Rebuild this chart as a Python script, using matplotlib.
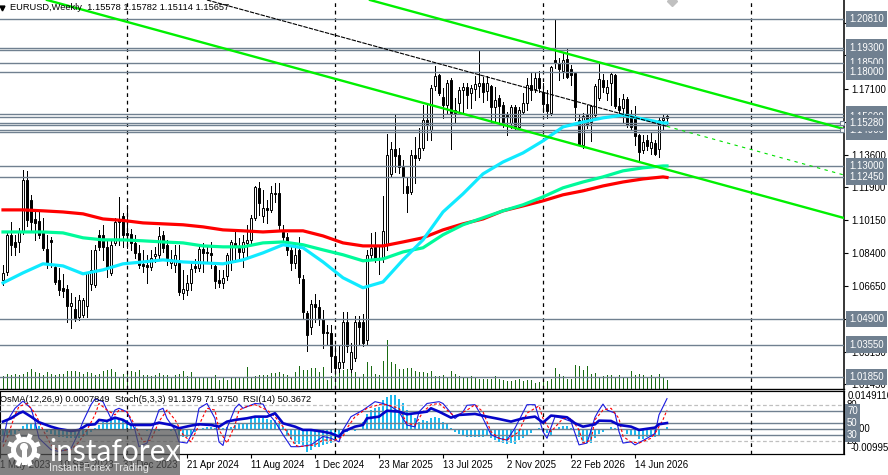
import numpy as np
import matplotlib
matplotlib.use('Agg')
import matplotlib.pyplot as plt
from matplotlib.patches import Circle, Rectangle

plt.rcParams['font.family'] = ['Liberation Sans', 'DejaVu Sans']

### WEEKLY CANDLES ###
opens = [
1.0698,1.0740,1.0937,1.0899,1.0899,1.0952,1.1228,1.1122,1.1021,1.1011,
1.0947,1.0862,1.0910,1.0767,1.0698,1.0656,1.0650,1.0560,1.0544,1.0502,
1.0513,1.0560,1.0677,1.0672,1.0937,1.0937,1.0873,1.0735,1.0894,1.1016,
1.1037,1.0947,1.0942,1.0894,1.0841,1.0783,1.0777,1.0767,1.0825,1.0831,
1.0937,1.0884,1.0788,1.0777,1.0788,1.0629,1.0645,1.0682,1.0772,1.0762,
1.0862,1.0846,1.0841,1.0772,1.0698,1.0682,1.0719,1.0793,1.0894,1.0868,
1.0846,1.0894,1.0910,1.1027,1.1186,1.1037,1.1080,1.1069,1.1159,1.1159,
1.0952,1.0926,1.0857,1.0788,1.0857,1.0703,1.0523,1.0449,1.0571,1.0555,
1.0491,1.0422,1.0417,1.0295,1.0232,1.0263,1.0475,1.0226,1.0285,1.0475,
1.0475,1.0380,1.0831,1.0873,1.0815,1.0815,1.0884,1.1260,1.1392,1.1360,
1.1297,1.1196,1.1164,1.1360,1.1345,1.1398,1.1546,1.1493,1.1726,1.1785,
1.1668,1.1626,1.1758,1.1599,1.1636,1.1705,1.1721,1.1689,1.1710,1.1726,
1.1742,1.1700,1.1726,1.1615,1.1663,1.1626,1.1572,1.1530,1.1615,1.1509,
1.1588,1.1636,1.1732,1.1710,1.1769,1.1694,1.1631,1.1583,1.1864,1.1848,
1.1806,1.1869,1.1816,1.1795,1.1546,1.1414,1.1572,1.1535,1.1572,1.1663,
1.1758,1.1689,1.1742,1.1785,1.1620,1.1610,1.1657,1.1562,1.1557,1.1467,
1.1387,1.1440,1.1398,1.1424,1.1392,1.1546,1.15578]
closes = [
1.0735,1.0937,1.0884,1.0873,1.0952,1.1228,1.1016,1.1005,1.1000,1.0937,
1.0868,1.0788,1.0899,1.0687,1.0645,1.0640,1.0560,1.0576,1.0497,1.0592,
1.0592,1.0735,1.0751,1.0857,1.0873,1.0873,1.0762,1.0884,1.1005,1.1005,
1.0937,1.0937,1.0894,1.0841,1.0777,1.0772,1.0767,1.0815,1.0836,1.0931,
1.0868,1.0815,1.0809,1.0831,1.0634,1.0650,1.0682,1.0756,1.0762,1.0862,
1.0841,1.0841,1.0831,1.0693,1.0682,1.0709,1.0831,1.0899,1.0878,1.0846,
1.0899,1.0910,1.1027,1.1191,1.1106,1.1080,1.1069,1.1159,1.1154,1.0990,
1.0926,1.0857,1.0788,1.0831,1.0714,1.0528,1.0407,1.0571,1.0555,1.0497,
1.0417,1.0417,1.0295,1.0232,1.0263,1.0475,1.0348,1.0317,1.0475,1.0449,
1.0364,1.0831,1.0868,1.0809,1.0809,1.0958,1.1360,1.1392,1.1355,1.1297,
1.1244,1.1159,1.1360,1.1345,1.1398,1.1546,1.1525,1.1716,1.1779,1.1689,
1.1626,1.1742,1.1583,1.1583,1.1705,1.1721,1.1678,1.1716,1.1737,1.1742,
1.1694,1.1742,1.1615,1.1652,1.1620,1.1530,1.1562,1.1615,1.1509,1.1599,
1.1636,1.1732,1.1705,1.1769,1.1716,1.1631,1.1594,1.1827,1.1848,1.1816,
1.1864,1.1774,1.1785,1.1615,1.1414,1.1567,1.1520,1.1620,1.1726,1.1763,
1.1721,1.1721,1.1790,1.1620,1.1599,1.1657,1.1520,1.1509,1.1461,1.1376,
1.1429,1.1408,1.1429,1.1366,1.1546,1.1557,1.15657]
highs = [
1.0777,1.0952,1.1005,1.0937,1.0974,1.1281,1.1276,1.1149,1.1069,1.1069,
1.1027,1.0937,1.0926,1.0777,1.0762,1.0730,1.0672,1.0629,1.0608,1.0619,
1.0603,1.0740,1.0857,1.0884,1.0963,1.0990,1.0910,1.0910,1.1027,1.1138,
1.1053,1.1096,1.0968,1.0937,1.0884,1.0857,1.0831,1.0857,1.0873,1.0979,
1.0958,1.0910,1.0857,1.0884,1.0884,1.0751,1.0725,1.0788,1.0809,1.0884,
1.0894,1.0884,1.0899,1.0793,1.0751,1.0751,1.0841,1.0910,1.0952,1.0921,
1.0937,1.0990,1.1043,1.1196,1.1217,1.1175,1.1122,1.1196,1.1212,1.1212,
1.0990,1.0947,1.0884,1.0889,1.0926,1.0725,1.0534,1.0592,1.0624,1.0592,
1.0539,1.0460,1.0460,1.0354,1.0354,1.0528,1.0528,1.0364,1.0507,1.0507,
1.0518,1.0857,1.0947,1.0952,1.0884,1.1143,1.1472,1.1429,1.1572,1.1398,
1.1334,1.1239,1.1387,1.1456,1.1504,1.1626,1.1626,1.1732,1.1832,1.1790,
1.1716,1.1758,1.1769,1.1663,1.1721,1.1742,1.1742,1.1732,1.1779,1.1912,
1.1774,1.1779,1.1732,1.1721,1.1678,1.1641,1.1588,1.1626,1.1626,1.1615,
1.1689,1.1769,1.1800,1.1800,1.1806,1.1742,1.1705,1.1832,1.2076,1.1875,
1.1906,1.1928,1.1838,1.1800,1.1572,1.1583,1.1626,1.1626,1.1737,1.1848,
1.1790,1.1758,1.1795,1.1790,1.1663,1.1684,1.1668,1.1599,1.1620,1.1472,
1.1467,1.1467,1.1482,1.1440,1.1557,1.1572,1.15782]
lows = [
1.0672,1.0725,1.0831,1.0831,1.0846,1.0942,1.0984,1.0952,1.0910,1.0921,
1.0857,1.0762,1.0767,1.0677,1.0619,1.0608,1.0475,1.0444,1.0481,1.0486,
1.0502,1.0502,1.0645,1.0661,1.0857,1.0804,1.0714,1.0725,1.0884,1.0884,
1.0873,1.0868,1.0857,1.0815,1.0762,1.0740,1.0682,1.0751,1.0793,1.0815,
1.0846,1.0777,1.0762,1.0740,1.0619,1.0597,1.0619,1.0645,1.0740,1.0746,
1.0740,1.0793,1.0762,1.0656,1.0661,1.0656,1.0698,1.0751,1.0793,1.0804,
1.0767,1.0815,1.0884,1.1016,1.1043,1.1005,1.1000,1.1058,1.1111,1.0958,
1.0899,1.0831,1.0751,1.0762,1.0682,1.0497,1.0322,1.0412,1.0475,1.0460,
1.0338,1.0354,1.0210,1.0210,1.0210,1.0232,1.0317,1.0210,1.0269,1.0354,
1.0348,1.0354,1.0804,1.0793,1.0730,1.0793,1.0857,1.1249,1.1270,1.1265,
1.1159,1.1058,1.1154,1.1212,1.1334,1.1387,1.1440,1.1440,1.1705,1.1678,
1.1557,1.1583,1.1392,1.1530,1.1583,1.1583,1.1610,1.1610,1.1652,1.1668,
1.1641,1.1652,1.1535,1.1530,1.1520,1.1509,1.1467,1.1504,1.1493,1.1504,
1.1583,1.1599,1.1652,1.1694,1.1694,1.1588,1.1557,1.1572,1.1822,1.1758,
1.1769,1.1769,1.1732,1.1546,1.1414,1.1398,1.1504,1.1435,1.1557,1.1652,
1.1694,1.1652,1.1626,1.1610,1.1572,1.1535,1.1509,1.1498,1.1414,1.1329,
1.1371,1.1387,1.1366,1.1360,1.1350,1.1493,1.15114]

volumes = [
13,15,14,15,14,15,17,20,17,16,14,17,15,14,15,15,18,18,18,17,
15,17,16,14,15,18,19,20,17,11,15,17,18,17,19,14,14,13,14,16,
14,14,12,14,15,18,13,17,11,11,11,11,11,14,9,11,9,11,11,11,
11,22,11,13,14,14,14,16,16,17,15,14,11,17,23,19,19,21,21,17,
22,9,13,19,21,19,20,20,17,11,15,27,23,15,14,28,49,27,25,20,
20,21,21,18,17,17,16,18,13,13,14,11,18,15,13,12,11,13,11,10,
10,10,10,13,10,9,8,8,9,10,8,9,9,6,7,10,8,10,21,15,
13,10,10,24,23,19,23,15,16,12,13,14,14,11,14,11,12,18,14,15,
14,12,14,11,15,12,9]

### MOVING AVERAGES, READ EVERY 5 BARS ###
ma_bars = list(range(0, 166, 5)) + [166]
ma_red = [
1.1069,1.1069,1.1064,1.1058,1.1048,1.1021,1.1013,1.1000,1.0995,1.0990,
1.0979,1.0963,1.0958,1.0952,1.0958,1.0958,1.0931,1.0894,1.0878,1.0878,
1.0899,1.0921,1.0963,1.0995,1.1021,1.1064,1.1090,1.1117,1.1149,1.1170,
1.1196,1.1217,1.1233,1.1244,1.1241]
ma_green = [
1.0952,1.0952,1.0952,1.0947,1.0921,1.0910,1.0910,1.0905,1.0899,1.0894,
1.0878,1.0873,1.0873,1.0894,1.0899,1.0884,1.0857,1.0831,1.0799,1.0809,
1.0846,1.0868,1.0937,1.0990,1.1027,1.1064,1.1096,1.1138,1.1186,1.1217,
1.1244,1.1276,1.1292,1.1302,1.1302]
ma_cyan = [
1.0682,1.0735,1.0783,1.0772,1.0730,1.0751,1.0783,1.0793,1.0804,1.0793,
1.0788,1.0783,1.0804,1.0841,1.0884,1.0868,1.0793,1.0709,1.0656,1.0687,
1.0804,1.0910,1.1058,1.1154,1.1260,1.1323,1.1371,1.1435,1.1509,1.1535,
1.1557,1.1572,1.1551,1.1530,1.1530]

### CHANNEL LINES: BAR, PRICE AT BOTH ENDS ###
channel_bars = [[91.75, 210.25], [11, 210.25], [51, 210.25]]
channel_prices = [[1.2182, 1.1498], [1.2182, 1.1026], [1.2182, 1.1254]]

### HORIZONTAL LEVELS, LATER LABELS ARE DRAWN ON TOP ###
levels = [1.1915, 1.1575, 1.1560, 1.1520, 1.1480, 1.1490, 1.2081, 1.1850, 1.1800,
          1.1930, 1.1300, 1.1245, 1.0490, 1.0355, 1.0185, 1.1528]
level_labels = ['1.19150', '1.15750', '1.15600', '1.15200', '1.14800', '1.14900', '1.20810', '1.18500', '1.18000',
                '1.19300', '1.13000', '1.12450', '1.04900', '1.03550', '1.01850', '1.15280']
price_ticks = [1.2060, 1.1890, 1.1710, 1.1535, 1.1360, 1.1190, 1.1015, 1.0840, 1.0665, 1.0490, 1.0315, 1.0145]

date_bars = [-0.7, 14, 30, 46, 62, 78, 94, 110, 126, 142, 158]
date_labels = ['1 May 2023', '10 Sep 2023', '31 Dec 2023', '21 Apr 2024', '11 Aug 2024', '1 Dec 2024',
               '23 Mar 2025', '13 Jul 2025', '2 Nov 2025', '22 Feb 2026', '14 Jun 2026']
year_bars = [31, 83, 135, 187]

### LOWER PANEL ###
osma = [
-0.0025,-0.0027,-0.0025,-0.0020,-0.0005,0.0015,0.0021,0.0022,0.0021,0.0012,
-0.0004,-0.0012,-0.0018,-0.0024,-0.0030,-0.0033,-0.0035,-0.0036,-0.0036,-0.0034,
-0.0030,-0.0024,-0.0012,0.0004,0.0018,0.0032,0.0032,0.0039,0.0046,0.0046,
0.0039,0.0039,0.0025,0.0011,-0.0003,-0.0004,-0.0005,-0.0006,-0.0006,-0.0005,
-0.0004,-0.0004,-0.0005,-0.0008,-0.0024,-0.0030,-0.0031,-0.0022,-0.0010,0.0002,
0.0004,0.0011,0.0011,0.0004,0.0004,0.0004,0.0011,0.0011,0.0018,0.0021,
0.0021,0.0025,0.0046,0.0049,0.0046,0.0046,0.0042,0.0039,0.0039,0.0025,
0.0011,-0.0024,-0.0038,-0.0059,-0.0059,-0.0065,-0.0092,-0.0086,-0.0072,-0.0072,
-0.0065,-0.0061,-0.0058,-0.0044,-0.0030,-0.0021,-0.0010,-0.0003,-0.0007,0.0003,
0.0032,0.0062,0.0080,0.0090,0.0094,0.0121,0.0135,0.0142,0.0142,0.0126,
0.0108,0.0080,0.0062,0.0048,0.0032,0.0039,0.0036,0.0046,0.0050,0.0048,
0.0032,0.0021,0.0004,-0.0010,-0.0019,-0.0026,-0.0030,-0.0030,-0.0030,-0.0030,
-0.0030,-0.0028,-0.0037,-0.0044,-0.0051,-0.0058,-0.0061,-0.0058,-0.0061,-0.0044,
-0.0037,-0.0023,-0.0017,-0.0003,0.0004,0.0001,-0.0017,-0.0023,0.0001,0.0011,
0.0015,0.0014,0.0004,-0.0003,-0.0030,-0.0058,-0.0058,-0.0058,-0.0037,-0.0021,
-0.0010,-0.0001,0.0011,0.0007,0.0001,-0.0003,-0.0021,-0.0023,-0.0028,-0.0041,
-0.0041,-0.0030,-0.0033,-0.0033,-0.0023,-0.0003,0.0008]

rsi_bars = [0,2,4,5,7,9,12,14,17,19,21,23,24,26,28,30,32,34,37,39,42,44,47,49,52,54,56,58,61,63,66,68,70,73,
            75,77,80,82,84,85,88,90,91,94,96,99,101,103,106,107,109,112,114,118,121,124,127,130,133,135,137,
            141,143,145,148,149,152,154,157,159,163,164,166]
rsi_vals = [52.8,58.3,66.7,69.4,61,51.7,44.4,40.6,37.2,38.9,47.2,48.3,55.6,53.9,59.4,55.6,47.2,47.2,47.2,51.1,
            47.2,41.7,46.1,48.3,47.2,44.4,52.8,55.6,58.3,61.1,61.1,66.7,50,44.4,
            38.9,38.9,36,33.3,27.8,36,44.4,47.2,58.3,61.1,71,69.4,65,66.7,69.4,75,69.4,59.4,63.9,65.6,61.1,
            57.2,52.8,58.3,61.1,51.1,62.8,60,50,44.4,48.3,54.4,53.9,47.2,44.4,38.9,42.8,48.3,50.4]

stoch_bars = [0,1,3,5,7,8,9,12,14,17,19,20,22,23,25,27,28,29,31,33,34,36,38,39,40,41,43,44,46,48,49,51,53,54,55,
              56,58,59,60,63,65,66,68,70,72,74,77,80,82,84,85,87,90,93,95,97,99,101,103,104,106,109,110,112,113,
              115,116,118,120,122,124,126,128,131,133,135,136,138,140,142,144,146,148,149,150,151,153,154,155,
              157,158,161,163,164,166]
stoch_main = [19,53,75,87,75,53,25,6,3,8,36,53,81,90.6,86,58,72,75,69,39,11,17,53,72,75,58,39,19,17,42,75,83,58,19,13,
              42,75,82,75,83,82,69,53,31,11,11,14,28,25,19,39,61,72,86,83,78,69,47,44,69,83,86,83,67,58,
              69,80,81,58,31,25,22,42,81,81,36,25,61,58,53,14,17,60,72,82,72,67,36,17,
              19,14,25,33,64,91.1]

signal_bars = [0,1,3,4,6,8,10,12,14,17,19,21,23,24,26,28,29,31,33,35,37,39,41,43,45,47,49,51,53,54,56,58,59,61,63,66,
               68,71,73,74,78,80,83,85,86,88,91,94,96,99,101,103,105,107,109,111,113,116,118,120,122,124,126,129,
               131,134,135,137,140,142,144,145,147,148,150,152,154,155,157,159,162,163,165,166]
stoch_signal = [11,25,64,78,83,67,39,14,4,6,19,39,64,83,72,64,72,69,47,19,22,53,72,56,31,19,47,75,72,39,17,47,72,78,81,72,
                61,36,14,11,14,22,22,28,42,61,75,81,81,75,50,47,69,81,83,72,61,72,81,69,36,25,22,36,
                67,79,58,36,58,58,39,17,22,56,72,75,58,28,19,17,25,33,56,72]

### LAYOUT IN FIGURE FRACTIONS ###
W, H = 888.0, 475.0
fig = plt.figure(figsize=(W/100, H/100), dpi=100, facecolor='white')
rect_main = [0, 1-389/H, 844/W, 389/H]
rect_sub = [0, 1-454/H, 844/W, 63/H]

x_lim = (-0.75, 210.25)
bars = np.arange(len(closes))
level_color = '#708090'
font_size = 6.9

### VOLUME BEHIND THE PRICES ###
ax_vol = fig.add_axes(rect_main, frameon=False, zorder=1)
ax_vol.vlines(bars, 0, volumes, color='#1a6b12', lw=0.7, antialiased=False, zorder=2)
ax_vol.set_xlim(x_lim)
ax_vol.set_ylim(0, 389)
ax_vol.set_xticks([])
ax_vol.set_yticks([])

### PRICE PANEL ###
ax = fig.add_axes(rect_main, zorder=2)
ax.patch.set_alpha(0)
ax.set_xlim(x_lim)
ax.set_ylim(1.01192, 1.2182)

for b in year_bars:
    ax.axvline(b, color='black', lw=0.9, ls=(0, (3, 3)), zorder=1)

o = np.array(opens)
c = np.array(closes)
ax.vlines(bars, lows, highs, color='black', lw=0.7, antialiased=False, zorder=3)
up = c >= o
ax.bar(bars[up], (c-o)[up], bottom=o[up], width=0.55, facecolor='white', edgecolor='black', lw=0.7, zorder=3.5)
ax.bar(bars[~up], (o-c)[~up], bottom=c[~up], width=0.55, facecolor='black', edgecolor='black', lw=0.7, zorder=3.5)

for lv in levels:
    ax.axhline(lv, color=level_color, lw=1.0, zorder=4)

ax.plot(ma_bars, ma_red, color='#ff0000', lw=2.3, zorder=5)
ax.plot(ma_bars, ma_green, color='#00fa9a', lw=2.3, zorder=5)
ax.plot(ma_bars, ma_cyan, color='#10eaff', lw=2.3, zorder=5)

ax.plot(channel_bars[0], channel_prices[0], color='#00f000', lw=1.7, zorder=6)
ax.plot(channel_bars[1], channel_prices[1], color='#00f000', lw=1.7, zorder=6)
# the median line is black over the candles and a light green dash past them
mid_slope = (channel_prices[2][1]-channel_prices[2][0])/(channel_bars[2][1]-channel_bars[2][0])
mid_last = channel_prices[2][0]+mid_slope*(166-channel_bars[2][0])
ax.plot([channel_bars[2][0], 166], [channel_prices[2][0], mid_last], color='black', lw=0.8, ls=(0, (4, 1)), zorder=6)
ax.plot([166, channel_bars[2][1]], [mid_last, channel_prices[2][1]], color='#00e000', lw=0.8, ls=(0, (3, 4)), zorder=6)

ax.set_xticks([])
ax.yaxis.tick_right()
ax.set_yticks(price_ticks)
ax.set_yticklabels(['%.5f' % p for p in price_ticks], fontsize=font_size)
ax.tick_params(axis='y', length=3, width=0.8, pad=2)
for s in ['left', 'top']:
    ax.spines[s].set_visible(False)
ax.spines['right'].set_linewidth(1.1)
ax.spines['bottom'].set_linewidth(1.0)

for lv, lab in zip(levels, level_labels):
    ax.annotate(lab, xy=(849/844, lv), xycoords=ax.get_yaxis_transform(), va='center', ha='left',
                color='white', fontsize=font_size, zorder=10, annotation_clip=False,
                bbox=dict(boxstyle='square,pad=0.32', fc=level_color, ec='none'))

ax.text(10/844, 1-8/389, 'EURUSD,Weekly  1.15578 1.15782 1.15114 1.15657', transform=ax.transAxes,
        va='center', ha='left', fontsize=6.7, color='black', zorder=9)
ax.plot([2/844], [1-8/389], marker='v', color='black', ms=3.5, transform=ax.transAxes, clip_on=False, zorder=9)
ax.plot([672/844], [1-1/389], marker='D', color='#c0c0c0', ms=5, transform=ax.transAxes, zorder=9)
for lv in [1.1528, 1.1490]:
    ax.plot([842/844], [lv], marker='s', ms=3.5, mfc='white', mec=level_color, mew=0.8,
            transform=ax.get_yaxis_transform(), clip_on=False, zorder=8)

### OSCILLATOR PANEL, STOCH AND RSI ON 0-100 ###
ax2 = fig.add_axes(rect_sub, zorder=2)
ax2.set_xlim(x_lim)
ax2.set_ylim(-1.2, 103.8)
ax_osma = ax2.twinx()
ax_osma.set_ylim(-0.0102, 0.0159)
ax_osma.bar(bars, osma, width=0.72, color='#1fb9ee', zorder=2)
ax_osma.axhline(0, color=level_color, lw=1.0, zorder=3)
ax_osma.set_yticks([])
ax_osma.set_xticks([])
ax_osma.patch.set_alpha(0)

ax2.set_zorder(3)
ax2.patch.set_alpha(0)
ax_osma.set_zorder(2)

for lv in [70, 50, 30]:
    ax2.axhline(lv, color=level_color, lw=1.0, zorder=1)
for lv in [80, 20]:
    ax2.axhline(lv, color='#c0c0c0', lw=0.9, ls=(0, (3, 2)), zorder=1)
for b in year_bars:
    ax2.axvline(b, color='black', lw=0.9, ls=(0, (3, 3)), zorder=1)

ax2.plot(stoch_bars, stoch_main, color='#1a1ae0', lw=0.8, zorder=4)
ax2.plot(signal_bars, stoch_signal, color='#ff0000', lw=0.8, ls=(0, (2.5, 2)), zorder=4)
ax2.plot(rsi_bars, rsi_vals, color='#0505c8', lw=1.9, zorder=5)

ax2.set_yticks([])
ax2.set_xticks(date_bars)
ax2.set_xticklabels(date_labels, fontsize=font_size, ha='left')
ax2.tick_params(axis='x', length=3, width=0.8, pad=1.5)
ax2.spines['left'].set_visible(False)
ax2.spines['right'].set_linewidth(1.1)

sub_titles = ['OsMA(12,26,9) 0.0007849', 'Stoch(5,3,3) 91.1379 71.9750', 'RSI(14) 50.3672']
sub_title_x = [0, 115, 243]
for lab, px in zip(sub_titles, sub_title_x):
    ax2.text(px/844, 1-9/63, lab, transform=ax2.transAxes, fontsize=6.7, va='center', ha='left', color='black', zorder=7)

y_trans = ax2.get_yaxis_transform()
for lv in [80, 20]:
    ax2.text(847/844, lv, str(lv), transform=y_trans, fontsize=font_size, va='center', ha='left', clip_on=False)
ax_osma.text(852/844, 0, '0.00', transform=ax_osma.get_yaxis_transform(), fontsize=font_size, va='center', ha='left', clip_on=False)
ax_osma.text(848/844, 0.0139, '0.0149116', transform=ax_osma.get_yaxis_transform(), fontsize=font_size, va='center', ha='left', clip_on=False)
ax_osma.text(851/844, -0.0076, '-0.00995', transform=ax_osma.get_yaxis_transform(), fontsize=font_size, va='center', ha='left', clip_on=False)
for lv in [70, 50, 30]:
    ax2.annotate(str(lv), xy=(847/844, lv), xycoords=y_trans, va='center', ha='left', color='white',
                 fontsize=font_size, annotation_clip=False, zorder=8,
                 bbox=dict(boxstyle='square,pad=0.2', fc=level_color, ec='none'))

### WATERMARK IN PIXEL SPACE ###
ov = fig.add_axes([0, 0, 1, 1], zorder=20)
ov.set_xlim(0, W)
ov.set_ylim(H, 0)
ov.axis('off')
ov.add_patch(Rectangle((0, 429), 180, 46, fc='#525252', ec='none', alpha=0.72))
cx, cy = 24, 450
for ang in np.arange(0, 360, 45):
    t = np.deg2rad(ang+22.5)
    ov.plot([cx+10*np.cos(t), cx+17*np.cos(t)], [cy+10*np.sin(t), cy+17*np.sin(t)], color='white', lw=3.4, solid_capstyle='butt')
ov.add_patch(Circle((cx, cy), 13, fc='white', ec='none'))
ov.add_patch(Circle((cx, cy), 8, fc='#8a8a8a', ec='none'))
ov.add_patch(Circle((cx, cy-3), 4, fc='white', ec='none'))
ov.add_patch(Rectangle((cx-2.5, cy-1), 5, 16, fc='white', ec='none'))
ov.text(49, 461, 'instaforex', fontsize=21.5, color='white', family=['Lato', 'DejaVu Sans'], va='baseline', ha='left')
ov.text(49, 468, 'Instant Forex Trading', fontsize=7.6, color='#e8e8e8', va='center', ha='left')

fig.savefig('out.png', dpi=100)
